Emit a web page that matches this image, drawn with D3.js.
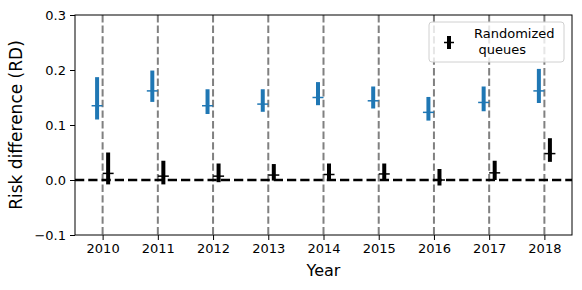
<!DOCTYPE html>
<html>
<head>
<meta charset="utf-8">
<script src="https://cdn.jsdelivr.net/npm/d3@7"></script>
<style>
  body { margin: 0; background: #fff; }
  svg { font-family: "DejaVu Sans", sans-serif; }
</style>
</head>
<body>
<div id="chart"></div>
<script>
// Data
var years = [2010, 2011, 2012, 2013, 2014, 2015, 2016, 2017, 2018];

// observed RD (blue), with lower / upper bounds
var obsMid = [0.135, 0.162, 0.135, 0.138, 0.150, 0.144, 0.123, 0.141, 0.162];
var obsLow = [0.110, 0.142, 0.120, 0.124, 0.136, 0.130, 0.108, 0.125, 0.140];
var obsHigh = [0.187, 0.199, 0.165, 0.165, 0.178, 0.170, 0.151, 0.170, 0.202];

// randomized queues (black)
var randMid = [0.012, 0.007, 0.007, 0.009, 0.010, 0.011, 0.000, 0.013, 0.048];
var randLow = [-0.008, -0.008, -0.004, -0.001, -0.001, 0.000, -0.010, 0.000, 0.033];
var randHigh = [0.050, 0.035, 0.030, 0.029, 0.030, 0.030, 0.020, 0.035, 0.076];

var yTicks = [-0.1, 0.0, 0.1, 0.2, 0.3];

var W = 582, H = 290;
var margin = { top: 15, right: 10, bottom: 55, left: 75 },
    width = W - margin.left - margin.right,
    height = H - margin.top - margin.bottom;

var x = d3.scaleLinear().domain([2009.5, 2018.5]).range([0, width]);
var y = d3.scaleLinear().domain([-0.1, 0.3]).range([height, 0]);

var svg = d3.select("#chart").append("svg")
    .attr("width", W)
    .attr("height", H)
    .append("g")
    .attr("transform", "translate(" + margin.left + "," + margin.top + ")");

// vertical dashed year lines
svg.selectAll(".vline")
    .data(years)
    .enter().append("line")
    .attr("x1", function (d) { return x(d); })
    .attr("x2", function (d) { return x(d); })
    .attr("y1", 0)
    .attr("y2", height)
    .attr("stroke", "#808080")
    .attr("stroke-width", 2)
    .attr("stroke-dasharray", "7.4,3.2");

// zero line
svg.append("line")
    .attr("x1", 0).attr("x2", width)
    .attr("y1", y(0)).attr("y2", y(0))
    .attr("stroke", "#000")
    .attr("stroke-width", 2.5)
    .attr("stroke-dasharray", "9.25,4");

function drawBars(mid, low, high, offset, color) {
    var rows = years.map(function (yr, i) {
        return { x: yr + offset, mid: mid[i], low: low[i], high: high[i] };
    });
    var g = svg.append("g");
    g.selectAll(".eb")
        .data(rows)
        .enter().append("line")
        .attr("x1", function (d) { return x(d.x); })
        .attr("x2", function (d) { return x(d.x); })
        .attr("y1", function (d) { return y(d.low); })
        .attr("y2", function (d) { return y(d.high); })
        .attr("stroke", color)
        .attr("stroke-width", 4);
    g.selectAll(".mk")
        .data(rows)
        .enter().append("line")
        .attr("x1", function (d) { return x(d.x) - 5.5; })
        .attr("x2", function (d) { return x(d.x) + 5.5; })
        .attr("y1", function (d) { return y(d.mid); })
        .attr("y2", function (d) { return y(d.mid); })
        .attr("stroke", color)
        .attr("stroke-width", 1.5);
}

drawBars(obsMid, obsLow, obsHigh, -0.1, "#1f77b4");
drawBars(randMid, randLow, randHigh, 0.1, "#000");

// axes
var xAxis = svg.append("g")
    .attr("transform", "translate(0," + height + ")")
    .call(d3.axisBottom(x).tickValues(years).tickFormat(d3.format("d"))
        .tickSize(5).tickPadding(4).tickSizeOuter(0));

var yAxis = svg.append("g")
    .call(d3.axisLeft(y).tickValues(yTicks)
        .tickFormat(function (d) { return d3.format(".1f")(d).replace("-", "\u2212"); })
        .tickSize(5).tickPadding(4).tickSizeOuter(0));

[xAxis, yAxis].forEach(function (a) {
    a.select(".domain").remove();
    a.selectAll("line").attr("stroke", "#000").attr("stroke-width", 1);
    a.selectAll("text").attr("font-size", 13).attr("fill", "#000")
        .attr("font-family", "DejaVu Sans");
});

// frame
svg.append("rect")
    .attr("width", width).attr("height", height)
    .attr("fill", "none")
    .attr("stroke", "#000")
    .attr("stroke-width", 1);

// labels
svg.append("text")
    .attr("x", width / 2)
    .attr("y", height + 41)
    .attr("text-anchor", "middle")
    .attr("font-size", 16)
    .text("Year");

svg.append("text")
    .attr("transform", "translate(" + (-53) + "," + (height / 2) + ") rotate(-90)")
    .attr("text-anchor", "middle")
    .attr("font-size", 17)
    .text("Risk difference (RD)");

// legend
var leg = svg.append("g").attr("transform", "translate(" + (x(2018.5) - 143) + ",7)");
leg.append("rect")
    .attr("width", 135).attr("height", 40)
    .attr("rx", 3)
    .attr("fill", "#fff").attr("fill-opacity", 0.8)
    .attr("stroke", "#d0d0d0").attr("stroke-width", 1);
leg.append("line")
    .attr("x1", 20).attr("x2", 20).attr("y1", 14).attr("y2", 27)
    .attr("stroke", "#000").attr("stroke-width", 4);
leg.append("line")
    .attr("x1", 15).attr("x2", 25).attr("y1", 20.5).attr("y2", 20.5)
    .attr("stroke", "#000").attr("stroke-width", 1.5);
leg.append("text")
    .attr("x", 45).attr("y", 16)
    .attr("font-size", 13)
    .text("Randomized");
leg.append("text")
    .attr("x", 49.5).attr("y", 32)
    .attr("font-size", 13)
    .text("queues");
</script>
</body>
</html>
